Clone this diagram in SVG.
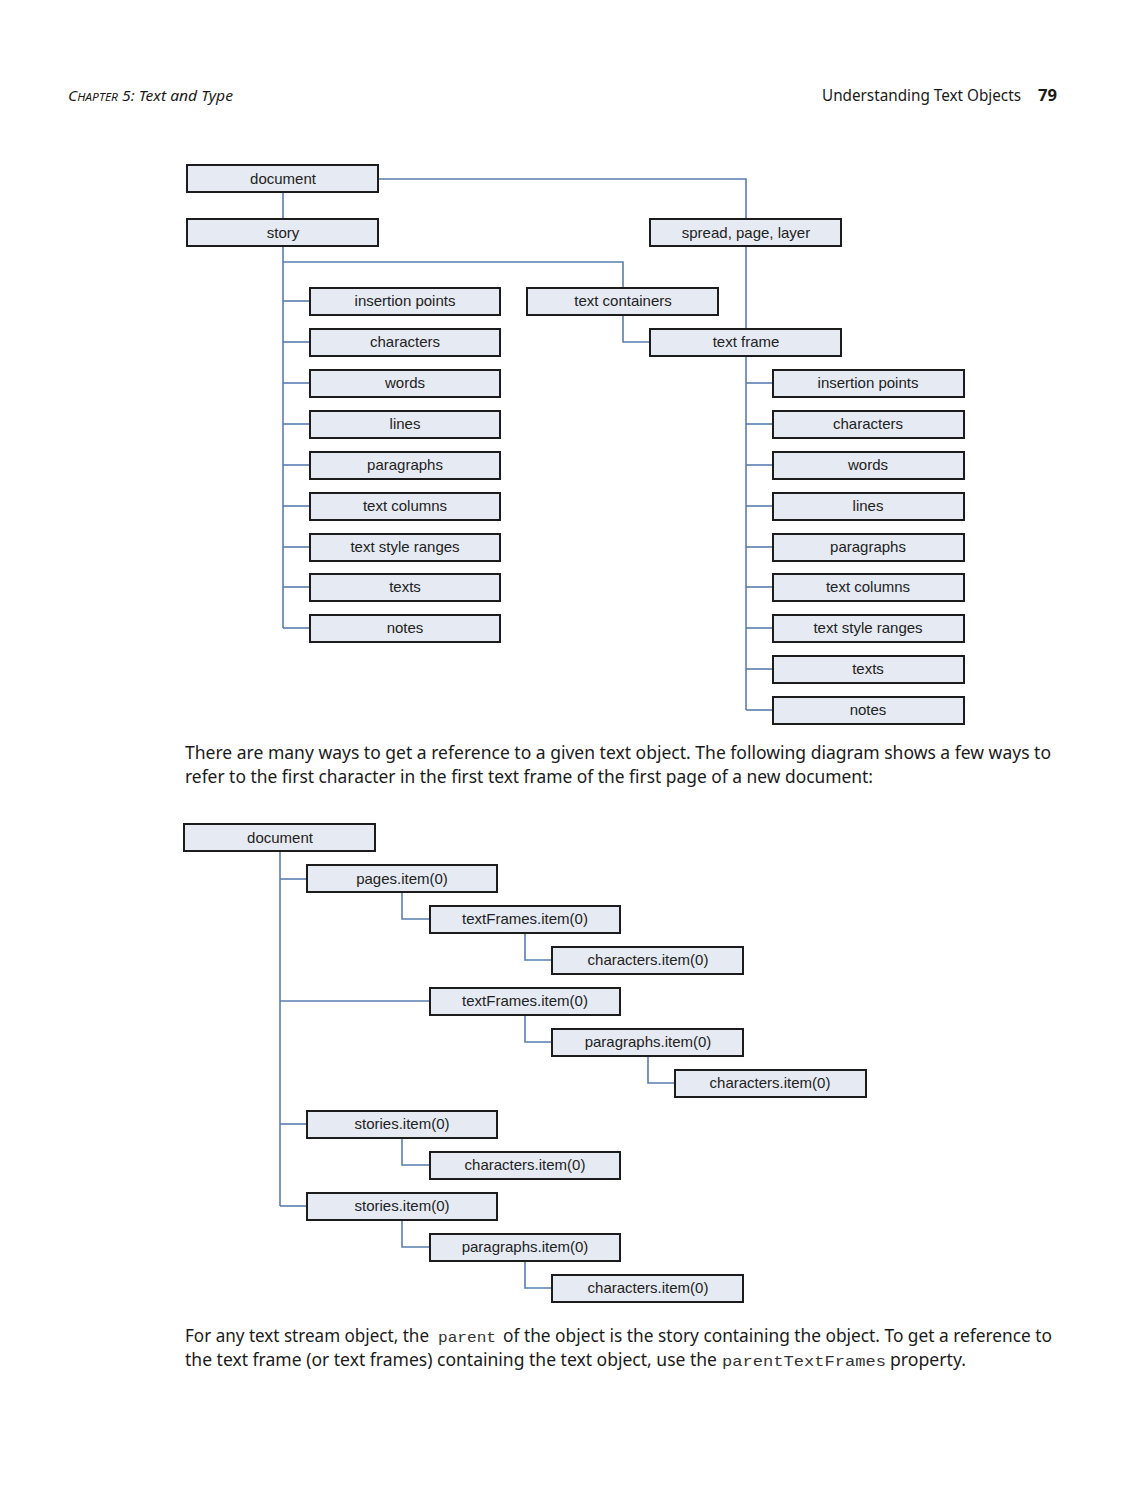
<svg xmlns="http://www.w3.org/2000/svg" width="1125" height="1500" viewBox="0 0 1125 1500">
<style>
.box{fill:#e6eaf3;stroke:#1c1c1c;stroke-width:2}
.lbl{font-family:"Liberation Sans",Arial,sans-serif;font-size:15px;fill:#222;text-anchor:middle}
.con{fill:none;stroke:#5a7db0;stroke-width:1.6}
.body{font-family:"Noto Sans","Open Sans",sans-serif;font-size:18px;fill:#1a1a1a}
.code{font-family:"Liberation Mono","Courier New",monospace;font-size:15px;fill:#333}
.hdr{font-family:"Noto Sans","Open Sans",sans-serif;fill:#1a1a1a}
</style>
<rect width="1125" height="1500" fill="#ffffff"/>

<g id="header">
<text class="hdr" x="68" y="101" font-style="italic" font-size="15" textLength="165" lengthAdjust="spacingAndGlyphs">C<tspan font-size="11.5">HAPTER</tspan> 5: Text and Type</text>
<text class="hdr" x="822" y="101" font-size="16" textLength="199" lengthAdjust="spacingAndGlyphs">Understanding Text Objects</text>
<text class="hdr" x="1038" y="101" font-size="16" font-weight="bold" textLength="19" lengthAdjust="spacingAndGlyphs">79</text>
</g>

<g id="connectors">
<polyline class="con" points="378,179 746,179 746,219"/>
<line class="con" x1="283" y1="192" x2="283" y2="219"/>
<line class="con" x1="283" y1="246" x2="283" y2="628"/>
<polyline class="con" points="283,262 623,262 623,288"/>
<polyline class="con" points="623,315 623,342 650,342"/>
<line class="con" x1="746" y1="246" x2="746" y2="329"/>
<line class="con" x1="283" y1="301" x2="310" y2="301"/>
<line class="con" x1="283" y1="342" x2="310" y2="342"/>
<line class="con" x1="283" y1="383" x2="310" y2="383"/>
<line class="con" x1="283" y1="424" x2="310" y2="424"/>
<line class="con" x1="283" y1="465" x2="310" y2="465"/>
<line class="con" x1="283" y1="506" x2="310" y2="506"/>
<line class="con" x1="283" y1="547" x2="310" y2="547"/>
<line class="con" x1="283" y1="587" x2="310" y2="587"/>
<line class="con" x1="283" y1="628" x2="310" y2="628"/>
<line class="con" x1="746" y1="356" x2="746" y2="710"/>
<line class="con" x1="746" y1="383" x2="773" y2="383"/>
<line class="con" x1="746" y1="424" x2="773" y2="424"/>
<line class="con" x1="746" y1="465" x2="773" y2="465"/>
<line class="con" x1="746" y1="506" x2="773" y2="506"/>
<line class="con" x1="746" y1="547" x2="773" y2="547"/>
<line class="con" x1="746" y1="587" x2="773" y2="587"/>
<line class="con" x1="746" y1="628" x2="773" y2="628"/>
<line class="con" x1="746" y1="669" x2="773" y2="669"/>
<line class="con" x1="746" y1="710" x2="773" y2="710"/>
<line class="con" x1="280" y1="851" x2="280" y2="1206"/>
<line class="con" x1="280" y1="879" x2="307" y2="879"/>
<line class="con" x1="280" y1="1001" x2="430" y2="1001"/>
<line class="con" x1="280" y1="1124" x2="307" y2="1124"/>
<line class="con" x1="280" y1="1206" x2="307" y2="1206"/>
<polyline class="con" points="402,892 402,919 430,919"/>
<polyline class="con" points="525,933 525,960 552,960"/>
<polyline class="con" points="525,1015 525,1042 552,1042"/>
<polyline class="con" points="648,1056 648,1083 675,1083"/>
<polyline class="con" points="402,1138 402,1165 430,1165"/>
<polyline class="con" points="402,1220 402,1247 430,1247"/>
<polyline class="con" points="525,1261 525,1288 552,1288"/>
</g>

<g id="t-document"><rect class="box" x="187" y="165" width="191" height="27"/><text class="lbl" x="283" y="184">document</text></g>
<g id="t-story"><rect class="box" x="187" y="219" width="191" height="27"/><text class="lbl" x="283" y="238">story</text></g>
<g id="t-spread"><rect class="box" x="650" y="219" width="191" height="27"/><text class="lbl" x="746" y="238">spread, page, layer</text></g>
<g id="t-textcontainers"><rect class="box" x="527" y="288" width="191" height="27"/><text class="lbl" x="623" y="306">text containers</text></g>
<g id="t-textframe"><rect class="box" x="650" y="329" width="191" height="27"/><text class="lbl" x="746" y="347">text frame</text></g>

<g id="s-insertion"><rect class="box" x="310" y="288" width="190" height="27"/><text class="lbl" x="405" y="306">insertion points</text></g>
<g id="s-characters"><rect class="box" x="310" y="329" width="190" height="27"/><text class="lbl" x="405" y="347">characters</text></g>
<g id="s-words"><rect class="box" x="310" y="370" width="190" height="27"/><text class="lbl" x="405" y="388">words</text></g>
<g id="s-lines"><rect class="box" x="310" y="411" width="190" height="27"/><text class="lbl" x="405" y="429">lines</text></g>
<g id="s-paragraphs"><rect class="box" x="310" y="452" width="190" height="27"/><text class="lbl" x="405" y="470">paragraphs</text></g>
<g id="s-textcolumns"><rect class="box" x="310" y="493" width="190" height="27"/><text class="lbl" x="405" y="511">text columns</text></g>
<g id="s-textstyleranges"><rect class="box" x="310" y="534" width="190" height="27"/><text class="lbl" x="405" y="552">text style ranges</text></g>
<g id="s-texts"><rect class="box" x="310" y="574" width="190" height="27"/><text class="lbl" x="405" y="592">texts</text></g>
<g id="s-notes"><rect class="box" x="310" y="615" width="190" height="27"/><text class="lbl" x="405" y="633">notes</text></g>

<g id="f-insertion"><rect class="box" x="773" y="370" width="191" height="27"/><text class="lbl" x="868" y="388">insertion points</text></g>
<g id="f-characters"><rect class="box" x="773" y="411" width="191" height="27"/><text class="lbl" x="868" y="429">characters</text></g>
<g id="f-words"><rect class="box" x="773" y="452" width="191" height="27"/><text class="lbl" x="868" y="470">words</text></g>
<g id="f-lines"><rect class="box" x="773" y="493" width="191" height="27"/><text class="lbl" x="868" y="511">lines</text></g>
<g id="f-paragraphs"><rect class="box" x="773" y="534" width="191" height="27"/><text class="lbl" x="868" y="552">paragraphs</text></g>
<g id="f-textcolumns"><rect class="box" x="773" y="574" width="191" height="27"/><text class="lbl" x="868" y="592">text columns</text></g>
<g id="f-textstyleranges"><rect class="box" x="773" y="615" width="191" height="27"/><text class="lbl" x="868" y="633">text style ranges</text></g>
<g id="f-texts"><rect class="box" x="773" y="656" width="191" height="27"/><text class="lbl" x="868" y="674">texts</text></g>
<g id="f-notes"><rect class="box" x="773" y="697" width="191" height="27"/><text class="lbl" x="868" y="715">notes</text></g>

<g id="para1">
<text class="body" x="185" y="759" textLength="866" lengthAdjust="spacingAndGlyphs">There are many ways to get a reference to a given text object. The following diagram shows a few ways to</text>
<text class="body" x="185" y="783" textLength="688" lengthAdjust="spacingAndGlyphs">refer to the first character in the first text frame of the first page of a new document:</text>
</g>

<g id="b-document"><rect class="box" x="184" y="824" width="191" height="27"/><text class="lbl" x="280" y="843">document</text></g>
<g id="b-pages"><rect class="box" x="307" y="865" width="190" height="27"/><text class="lbl" x="402" y="884">pages.item(0)</text></g>
<g id="b-textframes1"><rect class="box" x="430" y="906" width="190" height="27"/><text class="lbl" x="525" y="924">textFrames.item(0)</text></g>
<g id="b-characters1"><rect class="box" x="552" y="947" width="191" height="27"/><text class="lbl" x="648" y="965">characters.item(0)</text></g>
<g id="b-textframes2"><rect class="box" x="430" y="988" width="190" height="27"/><text class="lbl" x="525" y="1006">textFrames.item(0)</text></g>
<g id="b-paragraphs1"><rect class="box" x="552" y="1029" width="191" height="27"/><text class="lbl" x="648" y="1047">paragraphs.item(0)</text></g>
<g id="b-characters2"><rect class="box" x="675" y="1070" width="191" height="27"/><text class="lbl" x="770" y="1088">characters.item(0)</text></g>
<g id="b-stories1"><rect class="box" x="307" y="1111" width="190" height="27"/><text class="lbl" x="402" y="1129">stories.item(0)</text></g>
<g id="b-characters3"><rect class="box" x="430" y="1152" width="190" height="27"/><text class="lbl" x="525" y="1170">characters.item(0)</text></g>
<g id="b-stories2"><rect class="box" x="307" y="1193" width="190" height="27"/><text class="lbl" x="402" y="1211">stories.item(0)</text></g>
<g id="b-paragraphs2"><rect class="box" x="430" y="1234" width="190" height="27"/><text class="lbl" x="525" y="1252">paragraphs.item(0)</text></g>
<g id="b-characters4"><rect class="box" x="552" y="1275" width="191" height="27"/><text class="lbl" x="648" y="1293">characters.item(0)</text></g>

<g id="para2">
<text class="body" x="185" y="1342" textLength="244" lengthAdjust="spacingAndGlyphs">For any text stream object, the</text>
<text class="code" x="438" y="1342" textLength="58" lengthAdjust="spacingAndGlyphs">parent</text>
<text class="body" x="503" y="1342" textLength="549" lengthAdjust="spacingAndGlyphs">of the object is the story containing the object. To get a reference to</text>
<text class="body" x="185" y="1366" textLength="532" lengthAdjust="spacingAndGlyphs">the text frame (or text frames) containing the text object, use the</text>
<text class="code" x="722" y="1366" textLength="164" lengthAdjust="spacingAndGlyphs">parentTextFrames</text>
<text class="body" x="890" y="1366" textLength="76" lengthAdjust="spacingAndGlyphs">property.</text>
</g>
</svg>
